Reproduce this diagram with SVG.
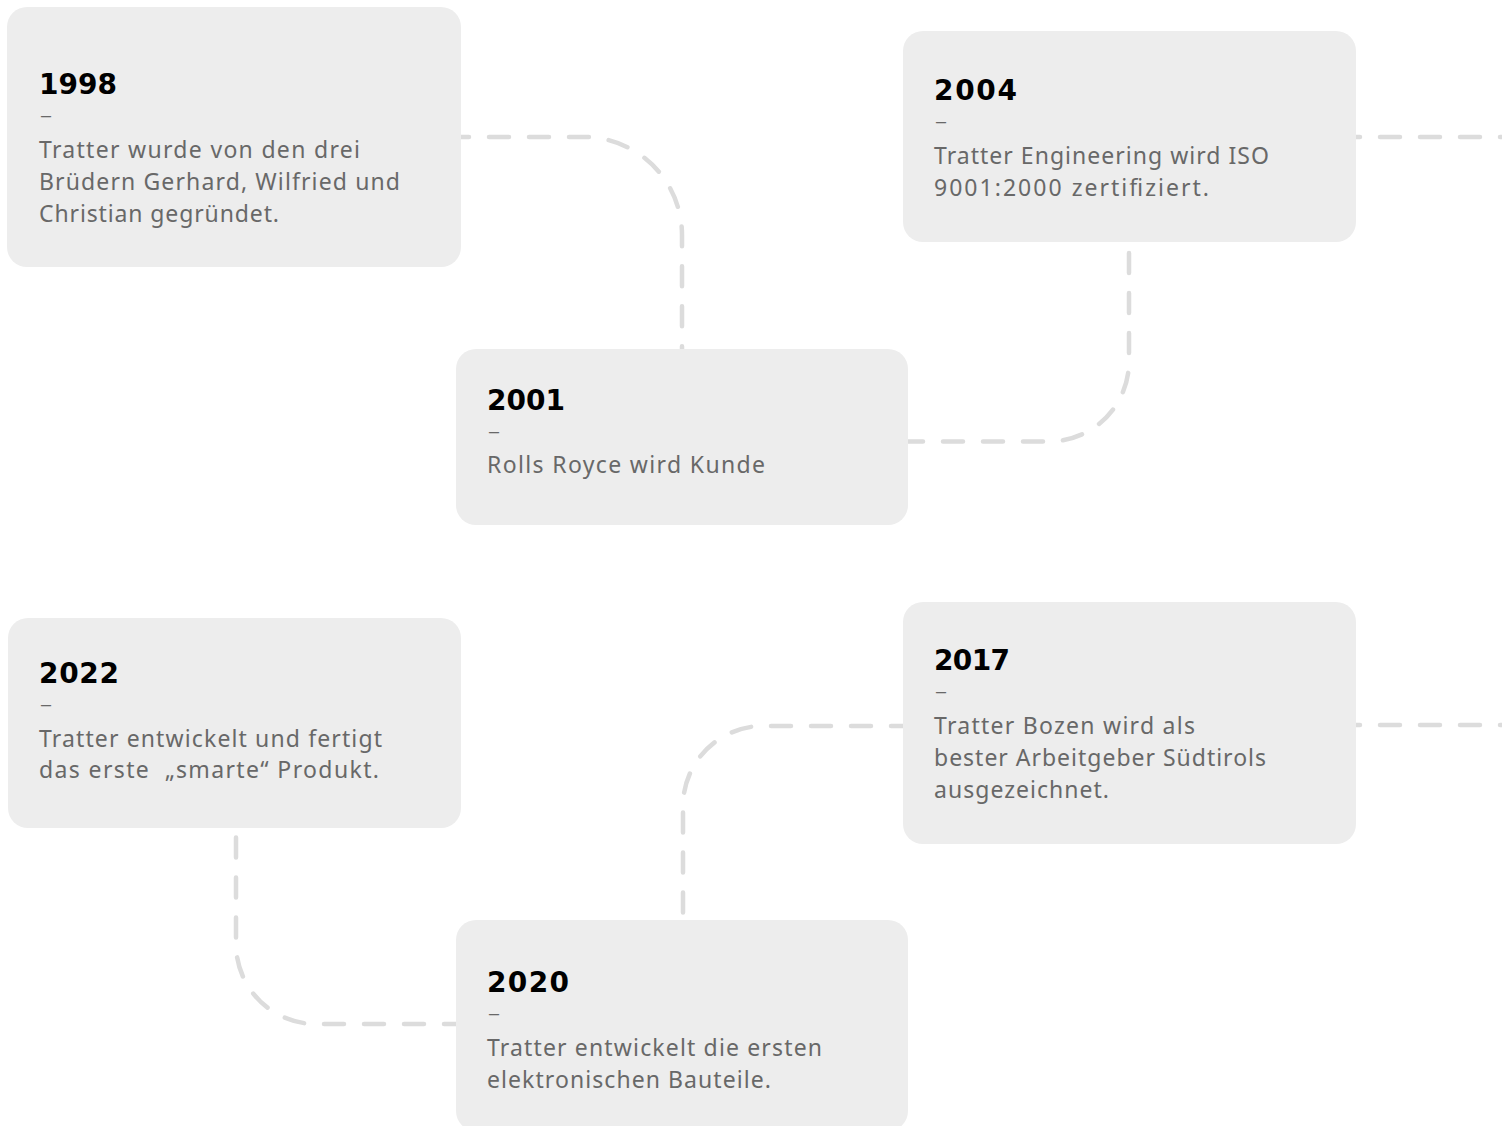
<svg xmlns="http://www.w3.org/2000/svg" width="1502" height="1126" viewBox="0 0 1502 1126">
<style>
.box{fill:#ededed}
.conn{fill:none;stroke:#dcdcdc;stroke-width:4.5;stroke-linecap:round;stroke-dasharray:20 20}
.yr{font-family:"DejaVu Sans","Noto Sans",sans-serif;font-weight:700;font-size:28px;fill:#000}
.tx{font-family:"Noto Sans","Liberation Sans",sans-serif;font-size:23px;fill:#686868}
.da{font-family:"Noto Sans","Liberation Sans",sans-serif;font-size:18px;fill:#686868}
</style>
<rect width="1502" height="1126" fill="#fff"/>
<g id="connectors">
<path class="conn" style="stroke-dashoffset:12" d="M461,137 H584 A98,98 0 0 1 682,235 V349"/>
<path class="conn" style="stroke-dashoffset:5" d="M908,441.5 H1049 A80,80 0 0 0 1129,361.5 V242"/>
<path class="conn" style="stroke-dashoffset:16" d="M1356,137 H1502"/>
<path class="conn" style="stroke-dashoffset:16" d="M1356,725 H1502"/>
<path class="conn" style="stroke-dashoffset:8" d="M903,726 H763 A80,80 0 0 0 683,806 V920"/>
<path class="conn" style="stroke-dashoffset:8" d="M456,1024 H316 A80,80 0 0 1 236,944 V828"/>
</g>
<g id="n1998">
<rect class="box" x="7" y="7" width="454" height="260" rx="20"/>
<text class="yr" x="39" y="94" textLength="78" lengthAdjust="spacing">1998</text>
<text class="da" x="40" y="122" textLength="12" lengthAdjust="spacingAndGlyphs">–</text>
<text class="tx" x="39" y="158" textLength="321" lengthAdjust="spacing">Tratter wurde von den drei</text>
<text class="tx" x="39" y="190" textLength="361" lengthAdjust="spacing">Brüdern Gerhard, Wilfried und</text>
<text class="tx" x="39" y="222" textLength="240" lengthAdjust="spacing">Christian gegründet.</text>
</g>
<g id="n2004">
<rect class="box" x="903" y="31" width="453" height="211" rx="20"/>
<text class="yr" x="934" y="100" textLength="83" lengthAdjust="spacing">2004</text>
<text class="da" x="935" y="128" textLength="12" lengthAdjust="spacingAndGlyphs">–</text>
<text class="tx" x="934" y="164" textLength="335" lengthAdjust="spacing">Tratter Engineering wird ISO</text>
<text class="tx" x="934" y="196" textLength="275" lengthAdjust="spacing">9001:2000 zertifiziert.</text>
</g>
<g id="n2001">
<rect class="box" x="456" y="349" width="452" height="176" rx="20"/>
<text class="yr" x="487" y="410" textLength="78" lengthAdjust="spacing">2001</text>
<text class="da" x="488" y="438" textLength="12" lengthAdjust="spacingAndGlyphs">–</text>
<text class="tx" x="487" y="473" textLength="278" lengthAdjust="spacing">Rolls Royce wird Kunde</text>
</g>
<g id="n2022">
<rect class="box" x="8" y="618" width="453" height="210" rx="20"/>
<text class="yr" x="39" y="683" textLength="80" lengthAdjust="spacing">2022</text>
<text class="da" x="40" y="711" textLength="12" lengthAdjust="spacingAndGlyphs">–</text>
<text class="tx" x="39" y="747" textLength="343" lengthAdjust="spacing">Tratter entwickelt und fertigt</text>
<text class="tx" x="39" y="778" textLength="340" lengthAdjust="spacing" xml:space="preserve">das erste  „smarte“ Produkt.</text>
</g>
<g id="n2017">
<rect class="box" x="903" y="602" width="453" height="242" rx="20"/>
<text class="yr" x="934" y="670" textLength="76" lengthAdjust="spacing">2017</text>
<text class="da" x="935" y="698" textLength="12" lengthAdjust="spacingAndGlyphs">–</text>
<text class="tx" x="934" y="734" textLength="261" lengthAdjust="spacing">Tratter Bozen wird als</text>
<text class="tx" x="934" y="766" textLength="332" lengthAdjust="spacing">bester Arbeitgeber Südtirols</text>
<text class="tx" x="934" y="798" textLength="175" lengthAdjust="spacing">ausgezeichnet.</text>
</g>
<g id="n2020">
<rect class="box" x="456" y="920" width="452" height="211" rx="20"/>
<text class="yr" x="487" y="992" textLength="82" lengthAdjust="spacing">2020</text>
<text class="da" x="488" y="1020" textLength="12" lengthAdjust="spacingAndGlyphs">–</text>
<text class="tx" x="487" y="1056" textLength="335" lengthAdjust="spacing">Tratter entwickelt die ersten</text>
<text class="tx" x="487" y="1088" textLength="284" lengthAdjust="spacing">elektronischen Bauteile.</text>
</g>
</svg>
